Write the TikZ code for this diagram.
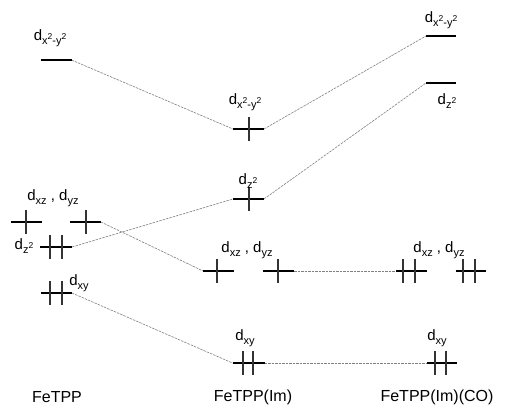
\documentclass[tikz,border=0pt]{standalone}
\usepackage{fontspec}
\setmainfont{Liberation Sans}
\newcommand\orbsub[1]{\raisebox{-0.45ex}{\fontsize{11}{11}\selectfont #1}}
\newcommand\orbsq{\raisebox{0.75ex}{\fontsize{8.5}{8.5}\selectfont 2}}
\newcommand\dxy{d\orbsub{xy}}
\newcommand\dzz{d\orbsub{z\orbsq}}
\newcommand\dxxyy{d\orbsub{x\orbsq-y\orbsq}}
\newcommand\dxzyz{d\orbsub{xz} , d\orbsub{yz}}
\newcommand\orbtick[2]{\draw[tk] ([xshift=#2]#1.center) +(0,-12) -- +(0,12);}
\begin{document}
\begin{tikzpicture}[x=1pt,y=-1pt,
  lv/.style={inner sep=0pt, outer sep=0pt, minimum height=0pt, minimum width=31pt},
  lvline/.style={line width=1.1pt, black},
  tk/.style={line width=1.1pt, black!80},
  conn/.style={gray, line width=0.6pt, dash pattern=on 2.5pt off 1pt},
  lab/.style={font=\fontsize{15}{18}\selectfont, inner sep=0pt},
  captxt/.style={font=\fontsize{16}{19}\selectfont, inner sep=0pt}]
\useasboundingbox (0,0) rectangle (505,410);
% levels (nodes)
\node[lv] (Lx2) at (56,60) {};
\node[lv] (Lxz) at (26.5,222) {};
\node[lv] (Lyz) at (85.5,222) {};
\node[lv, minimum width=32pt] (Lz2) at (56,247) {};
\node[lv] (Lxy) at (56.5,293) {};
\node[lv] (Mx2) at (248.5,129) {};
\node[lv] (Mz2) at (248.5,199) {};
\node[lv] (Mxz) at (218.5,271) {};
\node[lv] (Myz) at (278.5,271) {};
\node[lv, minimum width=32pt] (Mxy) at (248.5,363) {};
\node[lv, minimum width=30pt] (Rx2) at (441,36) {};
\node[lv, minimum width=30pt] (Rz2) at (441,83) {};
\node[lv] (Rxz) at (411.5,271) {};
\node[lv, minimum width=30pt] (Ryz) at (470.5,271) {};
\node[lv, minimum width=30pt] (Rxy) at (442,363) {};
% connectors
\draw[conn] (Lx2.east) -- (Mx2.west);
\draw[conn] (Lyz.east) -- (Mxz.west);
\draw[conn] (Lz2.east) -- (Mz2.west);
\draw[conn] (Lxy.east) -- (Mxy.west);
\draw[conn] (Mx2.east) -- (Rx2.west);
\draw[conn] (Mz2.east) -- (Rz2.west);
\draw[conn] (Myz.east) -- (Rxz.west);
\draw[conn] (Mxy.east) -- (Rxy.west);
% level lines
\foreach \n in {Lx2,Lxz,Lyz,Lz2,Lxy,Mx2,Mz2,Mxz,Myz,Mxy,Rx2,Rz2,Rxz,Ryz,Rxy}
  \draw[lvline] (\n.west) -- (\n.east);
% electrons
\orbtick{Lxz}{-0.5pt}
\orbtick{Lyz}{0.5pt}
\orbtick{Lz2}{-6pt}\orbtick{Lz2}{6pt}
\orbtick{Lxy}{-6.5pt}\orbtick{Lxy}{5.5pt}
\orbtick{Mx2}{0.5pt}
\orbtick{Mz2}{0.5pt}
\orbtick{Mxz}{-1.5pt}
\orbtick{Myz}{-0.5pt}
\orbtick{Mxy}{-5.5pt}\orbtick{Mxy}{4.5pt}
\orbtick{Rxz}{-8.5pt}\orbtick{Rxz}{3.5pt}
\orbtick{Ryz}{-7.5pt}\orbtick{Ryz}{4.5pt}
\orbtick{Rxy}{-7pt}\orbtick{Rxy}{4pt}
% labels
\node[lab] (tLx2) at (50,38) {\dxxyy};
\node[lab] (tLxz) at (53,198) {\dxzyz};
\node[lab] (tLz2) at (24,246) {\dzz};
\node[lab] (tLxy) at (79,283) {\dxy};
\node[lab] (tMx2) at (245,102) {\dxxyy};
\node[lab] (tMz2) at (248,181) {\dzz};
\node[lab] (tMxz) at (247,250) {\dxzyz};
\node[lab] (tMxy) at (245,338) {\dxy};
\node[lab] (tRx2) at (441,20) {\dxxyy};
\node[lab] (tRz2) at (447,101) {\dzz};
\node[lab] (tRxz) at (439,250) {\dxzyz};
\node[lab] (tRxy) at (437,338) {\dxy};
% captions
\node[captxt] (c1) at (57,397) {FeTPP};
\node[captxt] (c2) at (253,397) {FeTPP(Im)};
\node[captxt] (c3) at (437,397) {FeTPP(Im)(CO)};
\end{tikzpicture}
\end{document}
